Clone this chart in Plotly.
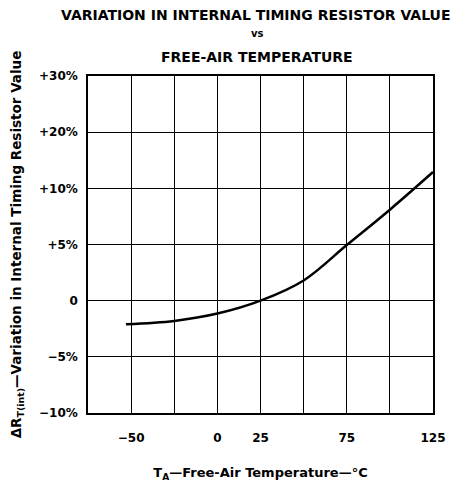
import numpy as np
import plotly.graph_objects as go

# Data
temps = [-53, -25, 0, 25, 50, 75, 100, 125]
delta_pct = [-2.1, -1.8, -1.15, 0.0, 1.8, 4.95, 8.1, 12.9]

y_tick_pct = [-10, -5, 0, 5, 10, 20, 30]
y_tick_text = ["−10%", "−5%", "0", "+5%", "+10%", "+20%", "+30%"]
x_tick_vals = [-50, 0, 25, 75, 125]
x_tick_text = ["−50", "0", "25", "75", "125"]
x_minor_grid = [-75, -25, 50, 100]

# The y scale of the original is piecewise (equal spacing for the labelled values)
y_pos_ticks = list(range(len(y_tick_pct)))
y_plot = np.interp(delta_pct, y_tick_pct, y_pos_ticks)

FONT = "DejaVu Sans"
OFF = 8  # page body margin in the browser
W, H = 473 - OFF, 488 - OFF
L, T = 88 - OFF, 76 - OFF
PW, PH = 345, 337

fig = go.Figure()
fig.add_trace(go.Scatter(x=temps, y=y_plot, mode="lines",
                         line=dict(color="black", width=2.5, shape="spline", smoothing=1.0),
                         hoverinfo="skip", showlegend=False))

fig.update_layout(
    width=W, height=H,
    margin=dict(l=L, r=W - L - PW, t=T, b=H - T - PH, autoexpand=False),
    paper_bgcolor="white", plot_bgcolor="white",
    font=dict(family=FONT, color="black"),
    showlegend=False,
)

fig.update_xaxes(
    range=[-75, 125], tickvals=x_tick_vals, ticktext=x_tick_text,
    showgrid=True, gridcolor="black", gridwidth=1.3,
    minor=dict(tickvals=x_minor_grid, showgrid=True, gridcolor="black", gridwidth=1.3),
    showline=True, linecolor="black", linewidth=1.5, mirror=True,
    zeroline=False, ticks="", ticklabelstandoff=13,
    tickfont=dict(family=FONT, size=12, color="black", weight="bold"),
    title=dict(text="T<sub>A</sub>—Free-Air Temperature—°C",
               font=dict(family=FONT, size=13, color="black", weight="bold"),
               standoff=24),
)
fig.update_yaxes(
    range=[0, 6], tickvals=y_pos_ticks, ticktext=y_tick_text,
    showgrid=True, gridcolor="black", gridwidth=1.3,
    showline=True, linecolor="black", linewidth=1.5, mirror=True,
    zeroline=False, ticks="", ticklabelstandoff=6,
    tickfont=dict(family=FONT, size=12, color="black", weight="bold"),
    title=dict(text="ΔR<sub>T(int)</sub>—Variation in Internal Timing Resistor Value",
               font=dict(family=FONT, size=13.5, color="black", weight="bold"),
               standoff=14),
)

for txt, xpx, ypx, sz in [("VARIATION IN INTERNAL TIMING RESISTOR VALUE", 256, 15, 14),
                          ("vs", 257, 34, 10),
                          ("FREE-AIR TEMPERATURE", 257, 57, 14)]:
    fig.add_annotation(text=txt,
                       x=(xpx - 88) / PW, y=(413 - ypx) / PH,
                       xref="paper", yref="paper", showarrow=False,
                       xanchor="center", yanchor="middle",
                       font=dict(family=FONT, size=sz, color="black", weight="bold"))

fig.write_html("out.html")
